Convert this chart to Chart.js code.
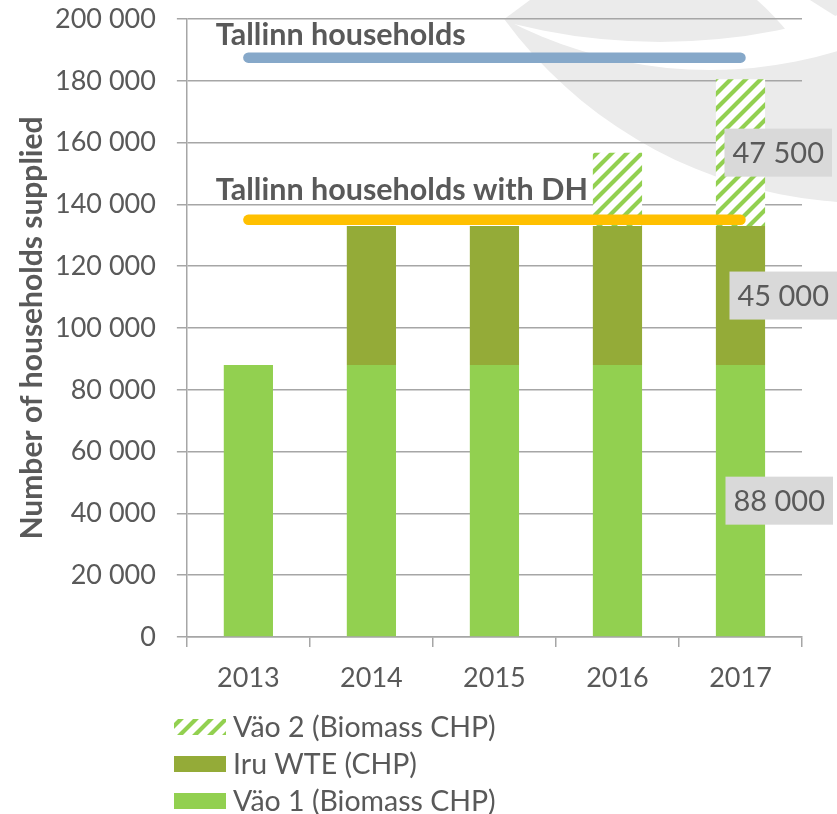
<!DOCTYPE html>
<html><head><meta charset="utf-8">
<script src="https://cdn.jsdelivr.net/npm/chart.js@4/dist/chart.umd.min.js"></script>
<style>html,body{margin:0;padding:0;background:#fff}#wrap{width:837px;height:814px;position:relative}canvas{display:block}</style>
</head><body><div id="wrap"><canvas id="c" width="837" height="814" style="width:837px;height:814px"></canvas></div>
<script>
// ---- data ----
const years = ['2013', '2014', '2015', '2016', '2017'];
const vao1 = [88000, 88000, 88000, 88000, 88000];
const iru = [null, 45000, 45000, 45000, 45000];
const vao2 = [null, null, null, 23750, 47500];
const tallinnHouseholds = [187500, 187500, 187500, 187500, 187500];
const tallinnHouseholdsDH = [135000, 135000, 135000, 135000, 135000];
const yTicks = [0, 20000, 40000, 60000, 80000, 100000, 120000, 140000, 160000, 180000, 200000];
const barNames = ['Väo 1 (Biomass CHP)', 'Iru WTE (CHP)', 'Väo 2 (Biomass CHP)'];
const lineNames = ['Tallinn households', 'Tallinn households with DH'];
const labelledYear = '2017';
const yTitle = 'Number of households supplied';

// ---- styles ----
const TXT = '#595959';
const GRID = '#a6a6a6';
const FONT = 'Lato';
const fmt = v => String(v).replace(/\B(?=(\d{3})+(?!\d))/g, ' ');

const canvas = document.getElementById('c');
const ctx0 = canvas.getContext('2d');
function makeHatch(fg, bg, s, w) {
  const c = document.createElement('canvas'); c.width = s; c.height = s;
  const g = c.getContext('2d');
  g.fillStyle = bg; g.fillRect(0, 0, s, s);
  g.strokeStyle = fg; g.lineWidth = w;
  g.beginPath();
  g.moveTo(-s, s); g.lineTo(s, -s);
  g.moveTo(0, s); g.lineTo(s, 0);
  g.moveTo(0, 2 * s); g.lineTo(2 * s, 0);
  g.stroke();
  return ctx0.createPattern(c, 'repeat');
}
const hatch = makeHatch('#92d050', '#ffffff', 15, 4.2);

// faint background logo (decoration only)
const watermark = {
  id: 'watermark',
  beforeDraw(chart) {
    const ctx = chart.ctx;
    ctx.save();
    ctx.fillStyle = '#ebebeb';
    ctx.beginPath(); ctx.arc(868, -249, 452, 0, Math.PI * 2); ctx.fill();
    // white arc band: inside circle B, outside circle A
    ctx.save();
    ctx.beginPath(); ctx.arc(710, -370, 440, 0, Math.PI * 2); ctx.clip();
    ctx.beginPath(); ctx.rect(0, 0, chart.width, chart.height);
    ctx.arc(660, -558, 600, 0, Math.PI * 2);
    ctx.fillStyle = '#ffffff'; ctx.fill('evenodd');
    ctx.restore();
    ctx.fillStyle = '#ffffff';
    ctx.beginPath();
    ctx.moveTo(757, 0); ctx.lineTo(810, 0);
    ctx.quadraticCurveTo(824, 9, 837, 17);
    ctx.lineTo(837, 45); ctx.lineTo(790, 35);
    ctx.quadraticCurveTo(775, 16, 757, 0);
    ctx.fill();
    ctx.beginPath(); ctx.moveTo(0, 0); ctx.lineTo(530, 0); ctx.lineTo(503, 20); ctx.lineTo(0, 20); ctx.fill();
    ctx.restore();
  }
};

const lineLabels = {
  id: 'lineLabels',
  afterDatasetsDraw(chart) {
    const ctx = chart.ctx;
    const offs = [13, 20];
    ctx.save();
    ctx.font = 'bold 30.5px ' + FONT;
    ctx.fillStyle = TXT;
    ctx.textBaseline = 'alphabetic';
    ctx.textAlign = 'left';
    chart.data.datasets.forEach((ds, i) => {
      if (ds.type !== 'line') return;
      const meta = chart.getDatasetMeta(i);
      const p = meta.data[0];
      const k = lineNames.indexOf(ds.label);
      ctx.fillText(ds.label, chart.chartArea.left + 29, p.y - offs[k]);
    });
    ctx.restore();
  }
};

const valueLabels = {
  id: 'valueLabels',
  afterDatasetsDraw(chart) {
    const ctx = chart.ctx;
    const idx = chart.data.labels.indexOf(labelledYear);
    ctx.save();
    ctx.font = '29px ' + FONT;
    ctx.textBaseline = 'middle';
    ctx.textAlign = 'center';
    const shifts = [-15, -11, -16];
    chart.data.datasets.forEach((ds, i) => {
      if (ds.type === 'line') return;
      const v = ds.data[idx];
      if (v == null) return;
      const el = chart.getDatasetMeta(i).data[idx];
      const cy = (el.y + el.base) / 2;
      const txt = fmt(v);
      const w = ctx.measureText(txt).width + 16;
      const h = 48;
      const left = el.x + shifts[barNames.indexOf(ds.label)];
      ctx.fillStyle = '#d9d9d9';
      ctx.fillRect(left, cy - h / 2, w, h);
      ctx.fillStyle = TXT;
      ctx.fillText(txt, left + w / 2, cy + 1);
    });
    ctx.restore();
  }
};

const customLegend = {
  id: 'customLegend',
  afterDraw(chart) {
    const ctx = chart.ctx;
    ctx.save();
    ctx.font = '28.5px ' + FONT;
    ctx.textBaseline = 'middle';
    ctx.textAlign = 'left';
    const bars = chart.data.datasets.filter(d => d.type !== 'line').slice().reverse();
    const top = chart.chartArea.bottom + 90;
    bars.forEach((ds, r) => {
      const cy = top + r * 37;
      ctx.fillStyle = ds.backgroundColor;
      ctx.fillRect(174, cy - 8, 52, 16);
      ctx.fillStyle = TXT;
      ctx.fillText(ds.label, 233, cy + 1);
    });
    ctx.restore();
  }
};

new Chart(canvas, {
  data: {
    labels: years,
    datasets: [
      { type: 'line', label: lineNames[0], data: tallinnHouseholds, borderColor: '#86a8c9', borderWidth: 10.5, borderCapStyle: 'round', pointRadius: 0, fill: false, stack: 'l0', order: 0 },
      { type: 'line', label: lineNames[1], data: tallinnHouseholdsDH, borderColor: '#ffc000', borderWidth: 10.5, borderCapStyle: 'round', pointRadius: 0, fill: false, stack: 'l1', order: 0 },
      { type: 'bar', label: barNames[0], data: vao1, backgroundColor: '#92d050', stack: 'b', order: 1 },
      { type: 'bar', label: barNames[1], data: iru, backgroundColor: '#94ab38', stack: 'b', order: 1 },
      { type: 'bar', label: barNames[2], data: vao2, backgroundColor: hatch, stack: 'b', order: 1 }
    ]
  },
  options: {
    responsive: false,
    devicePixelRatio: 1,
    animation: false,
    layout: { padding: { left: 11, right: 35, top: 19, bottom: 104.6 } },
    datasets: { bar: { categoryPercentage: 0.8, barPercentage: 0.5 } },
    plugins: { legend: { display: false }, tooltip: { enabled: false } },
    scales: {
      x: {
        stacked: true,
        ticks: { color: TXT, font: { family: FONT, size: 27 }, padding: 15 },
        grid: { display: true, drawOnChartArea: false, offset: true, tickLength: 10, color: GRID, lineWidth: 1.5 },
        border: { display: true, color: GRID, width: 1.5 }
      },
      y: {
        stacked: true, min: 0, max: 200000,
        afterBuildTicks: s => { s.ticks = yTicks.map(v => ({ value: v })); },
        ticks: { color: TXT, font: { family: FONT, size: 27 }, padding: 0, callback: v => fmt(v) },
        grid: { color: GRID, lineWidth: 1.5, tickLength: 31, tickBorderDash: [0, 21, 10, 60] },
        border: { display: true, color: GRID, width: 1.5 },
        title: { display: true, text: yTitle, color: TXT, font: { family: FONT, size: 30, weight: 'bold' }, padding: { top: 3, bottom: 5 } }
      }
    }
  },
  plugins: [watermark, lineLabels, valueLabels, customLegend]
});
</script>
</body></html>
